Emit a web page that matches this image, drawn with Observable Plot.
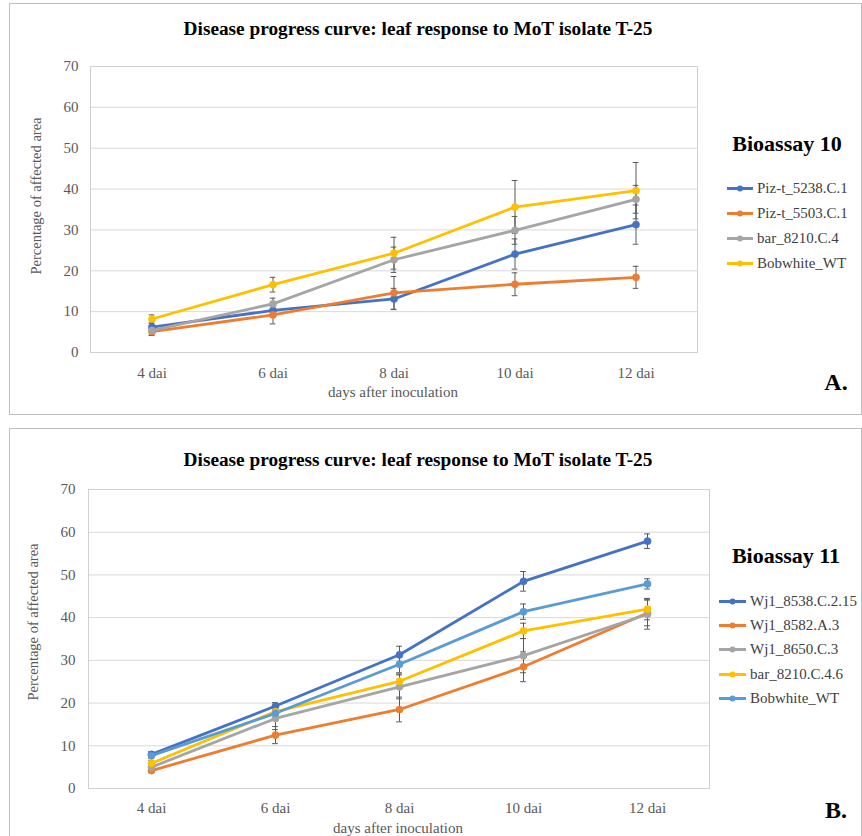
<!DOCTYPE html>
<html>
<head>
<meta charset="utf-8">
<script src="https://cdn.jsdelivr.net/npm/d3@7"></script>
<script src="https://cdn.jsdelivr.net/npm/@observablehq/plot@0.6"></script>
<style>
  html, body { margin: 0; padding: 0; background: #fff; }
  #page { position: relative; width: 862px; height: 836px; overflow: hidden; background: #fff; font-family: "Liberation Serif", "Times New Roman", serif; }
  .box { position: absolute; border: 1px solid #bfbfbf; box-sizing: border-box; }
  .abs { position: absolute; white-space: nowrap; }
  .title { font-weight: bold; font-size: 19.3px; color: #000; transform: translate(-50%, -50%); line-height: 1; }
  .ylab { font-size: 14.5px; color: #595959; transform: translate(-50%, -50%) rotate(-90deg); line-height: 1; }
  .xlab { font-size: 15px; color: #595959; transform: translate(-50%, -50%); line-height: 1; }
  .legtitle { font-weight: bold; font-size: 22px; color: #000; transform: translate(-50%, -50%); line-height: 1; }
  .legitem { font-size: 15px; color: #404040; line-height: 1; transform: translateY(-50%); display: flex; align-items: center; }
  .panelmark { font-weight: bold; font-size: 24px; color: #000; transform: translate(-50%, -50%); line-height: 1; }
  .chart { position: absolute; }
</style>
</head>
<body>
<div id="page"></div>
<script>
// ---------- data ----------
const days = ["4 dai", "6 dai", "8 dai", "10 dai", "12 dai"];
const yTicks = [0, 10, 20, 30, 40, 50, 60, 70];

// Panel A – Bioassay 10
const seriesA = ["Piz-t_5238.C.1", "Piz-t_5503.C.1", "bar_8210.C.4", "Bobwhite_WT"];
const colorsA = ["#4472C4", "#ED7D31", "#A5A5A5", "#FFC000"];
const a_piz5238 = [6.2, 10.3, 13.1, 24.1, 31.3];
const a_piz5503 = [5.1, 9.2, 14.6, 16.7, 18.4];
const a_bar8210 = [5.4, 11.9, 22.7, 29.9, 37.5];
const a_bobwhite = [8.2, 16.6, 24.3, 35.6, 39.6];
const a_piz5238_err = [1.0, 1.3, 2.6, 3.7, 4.8];
const a_piz5503_err = [0.9, 2.2, 4.0, 2.8, 2.7];
const a_bar8210_err = [1.2, 1.4, 3.1, 3.4, 3.4];
const a_bobwhite_err = [1.0, 1.8, 3.9, 6.5, 6.9];

// Panel B – Bioassay 11
const seriesB = ["Wj1_8538.C.2.15", "Wj1_8582.A.3", "Wj1_8650.C.3", "bar_8210.C.4.6", "Bobwhite_WT"];
const colorsB = ["#4472C4", "#ED7D31", "#A5A5A5", "#FFC000", "#5B9BD5"];
const b_wj8538 = [8.0, 19.3, 31.3, 48.5, 57.9];
const b_wj8582 = [4.2, 12.5, 18.5, 28.5, 41.1];
const b_wj8650 = [5.0, 16.4, 23.8, 31.1, 40.8];
const b_bar8210 = [5.9, 18.0, 25.1, 36.9, 42.0];
const b_bobwhite = [7.7, 17.6, 29.1, 41.4, 47.9];
const b_wj8538_err = [0.6, 0.8, 2.0, 2.3, 1.7];
const b_wj8582_err = [0.5, 2.0, 2.9, 3.5, 3.0];
const b_wj8650_err = [0.8, 2.6, 2.8, 4.0, 3.5];
const b_bar8210_err = [0.7, 1.5, 1.7, 1.8, 2.5];
const b_bobwhite_err = [0.6, 1.0, 2.0, 1.8, 1.2];

const valuesA = [a_piz5238, a_piz5503, a_bar8210, a_bobwhite];
const errorsA = [a_piz5238_err, a_piz5503_err, a_bar8210_err, a_bobwhite_err];
const valuesB = [b_wj8538, b_wj8582, b_wj8650, b_bar8210, b_bobwhite];
const errorsB = [b_wj8538_err, b_wj8582_err, b_wj8650_err, b_bar8210_err, b_bobwhite_err];

function buildTable(names, values, errors) {
  const rows = [];
  names.forEach((s, si) => {
    days.forEach((d, di) => {
      const v = values[si][di], e = errors[si][di];
      rows.push({ series: s, day: d, value: v, lo: v - e, hi: v + e });
    });
  });
  return rows;
}

const page = document.getElementById("page");

function addDiv(cls, left, top, text) {
  const el = document.createElement("div");
  el.className = "abs " + cls;
  el.style.left = left + "px";
  el.style.top = top + "px";
  if (text != null) el.textContent = text;
  page.appendChild(el);
  return el;
}

function makeChart(cfg) {
  const data = buildTable(cfg.names, cfg.values, cfg.errors);
  const bw = (cfg.width - cfg.ml - cfg.mr) / days.length;
  const capInset = bw / 2 - 3;
  const chart = Plot.plot({
    width: cfg.width,
    height: cfg.height,
    marginLeft: cfg.ml,
    marginRight: cfg.mr,
    marginTop: cfg.mt,
    marginBottom: cfg.mb,
    style: { fontFamily: '"Liberation Serif", "Times New Roman", serif', fontSize: "15px", color: "#595959", background: "transparent" },
    x: { type: "band", domain: days, padding: 0 },
    y: { domain: [0, 70] },
    color: { domain: cfg.names, range: cfg.colors },
    marks: [
      Plot.gridY(yTicks, { stroke: "#d9d9d9", strokeOpacity: 1 }),
      Plot.frame({ stroke: "#d0d0d0" }),
      Plot.axisY({ ticks: yTicks, tickSize: 0, tickPadding: cfg.ytp, label: null, fill: "#595959" }),
      Plot.axisX({ tickSize: 0, tickPadding: cfg.xtp, label: null, fill: "#595959" }),
      Plot.line(data, { x: "day", y: "value", z: "series", stroke: "series", strokeWidth: 2.8, strokeLinejoin: "round", strokeLinecap: "round" }),
      Plot.ruleX(data, { x: "day", y1: "lo", y2: "hi", stroke: "#595959", strokeWidth: 1 }),
      Plot.tickY(data, { x: "day", y: "lo", stroke: "#595959", strokeWidth: 1, insetLeft: capInset, insetRight: capInset }),
      Plot.tickY(data, { x: "day", y: "hi", stroke: "#595959", strokeWidth: 1, insetLeft: capInset, insetRight: capInset }),
      Plot.dot(data, { x: "day", y: "value", fill: "series", r: 3.6, stroke: "series", strokeWidth: 0.5 })
    ]
  });
  chart.classList.add("chart");
  chart.style.left = cfg.left + "px";
  chart.style.top = cfg.top + "px";
  page.appendChild(chart);
}

function makeLegend(names, colors, lineX0, lineX1, textX, ys) {
  names.forEach((n, i) => {
    const el = document.createElement("div");
    el.className = "abs legitem";
    el.style.left = lineX0 + "px";
    el.style.top = ys[i] + "px";
    const w = lineX1 - lineX0;
    el.innerHTML = `<svg width="${w}" height="8" style="flex:none"><line x1="0" y1="4" x2="${w}" y2="4" stroke="${colors[i]}" stroke-width="2.8"/><circle cx="${w / 2}" cy="4" r="3" fill="${colors[i]}"/></svg><span style="margin-left:${textX - lineX1}px">${n}</span>`;
    page.appendChild(el);
  });
}

// Boxes
const boxA = document.createElement("div");
boxA.className = "box";
Object.assign(boxA.style, { left: "9px", top: "3px", width: "853px", height: "412px" });
page.appendChild(boxA);
const boxB = document.createElement("div");
boxB.className = "box";
Object.assign(boxB.style, { left: "9px", top: "428px", width: "853px", height: "430px" });
page.appendChild(boxB);

// Panel A chart: frame x 90..697, y 66..352
makeChart({ names: seriesA, colors: colorsA, values: valuesA, errors: errorsA,
  left: 0, top: 0, width: 720, height: 410, ml: 90, mr: 23, mt: 66, mb: 58, ytp: 12, xtp: 15 });
// Panel B chart: frame x 88..709, y 489..788
makeChart({ names: seriesB, colors: colorsB, values: valuesB, errors: errorsB,
  left: 0, top: 420, width: 730, height: 416, ml: 88, mr: 21, mt: 69, mb: 48, ytp: 13, xtp: 14 });

// Titles and labels
addDiv("title", 418, 29, "Disease progress curve: leaf response to MoT isolate T-25");
addDiv("title", 418, 460, "Disease progress curve: leaf response to MoT isolate T-25");
addDiv("ylab", 36, 196, "Percentage of affected area");
addDiv("ylab", 33, 622, "Percentage of affected area");
addDiv("xlab", 393, 392, "days after inoculation");
addDiv("xlab", 398, 828, "days after inoculation");

// Legends
addDiv("legtitle", 787, 144, "Bioassay 10");
makeLegend(seriesA, colorsA, 727, 753, 757, [188, 213, 238, 263]);
addDiv("legtitle", 786, 556, "Bioassay 11");
makeLegend(seriesB, colorsB, 719, 746, 750, [601, 625, 649, 674, 698]);

addDiv("panelmark", 836, 382, "A.");
addDiv("panelmark", 836, 810, "B.");
</script>
</body>
</html>
